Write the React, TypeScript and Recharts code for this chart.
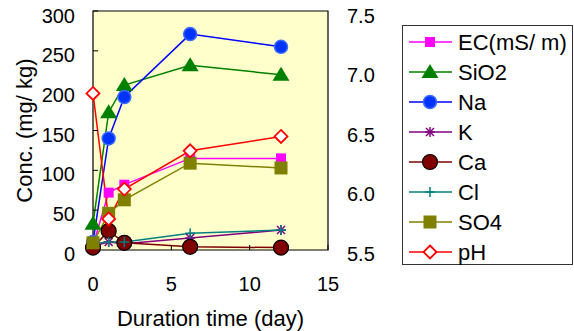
import React from "react"
import {
  ComposedChart,
  Line,
  XAxis,
  YAxis,
  ReferenceArea,
  Customized,
} from "recharts"

// sampling days
const days = [0, 1, 2, 6.2, 12]

// concentrations (mg/kg), EC in mS/m
const ec = [6, 72, 82, 115, 115]
const sio2 = [33, 173, 207, 232, 220]
const na = [10, 140, 192, 271, 255]
const k = [5, 10, 8, 15, 25]
const ca = [3, 24, 9, 4, 3]
const cl = [8, 10, 10, 21, 25]
const so4 = [9, 46, 63, 109, 103]
// right axis
const ph = [6.81, 5.76, 6.01, 6.33, 6.45]

const xTicks = [0, 5, 10, 15]
const leftTicks = [0, 50, 100, 150, 200, 250, 300]
const rightTicks = [5.5, 6, 6.5, 7, 7.5]

const data = days.map((d, i) => ({
  day: d,
  ec: ec[i],
  sio2: sio2[i],
  na: na[i],
  k: k[i],
  ca: ca[i],
  cl: cl[i],
  so4: so4[i],
  ph: ph[i],
}))

type Kind = "square" | "triangle" | "circle" | "star" | "bigcircle" | "plus" | "bigsquare" | "diamond"

const series: { key: string; name: string; color: string; kind: Kind; axis: string }[] = [
  { key: "ec", name: "EC(mS/ m)", color: "#FF00FF", kind: "square", axis: "left" },
  { key: "sio2", name: "SiO2", color: "#008000", kind: "triangle", axis: "left" },
  { key: "na", name: "Na", color: "#0000FF", kind: "circle", axis: "left" },
  { key: "k", name: "K", color: "#800080", kind: "star", axis: "left" },
  { key: "ca", name: "Ca", color: "#800000", kind: "bigcircle", axis: "left" },
  { key: "cl", name: "Cl", color: "#008080", kind: "plus", axis: "left" },
  { key: "so4", name: "SO4", color: "#808000", kind: "bigsquare", axis: "left" },
  { key: "ph", name: "pH", color: "#FF0000", kind: "diamond", axis: "right" },
]

const FONT = "'Liberation Sans', Arial, sans-serif"

function Marker({ kind, cx, cy, color }: { kind: Kind; cx: number; cy: number; color: string }) {
  if (cx == null || cy == null) return null
  switch (kind) {
    case "square":
      return <rect x={cx - 5} y={cy - 5} width={10} height={10} fill={color} />
    case "bigsquare":
      return <rect x={cx - 6.5} y={cy - 6.5} width={13} height={13} fill={color} />
    case "triangle":
      return <polygon points={`${cx},${cy - 8} ${cx + 8.5},${cy + 6} ${cx - 8.5},${cy + 6}`} fill={color} />
    case "circle":
      return <circle cx={cx} cy={cy} r={6.5} fill="#0033FF" stroke="#3A6BFF" strokeWidth={1.5} />
    case "bigcircle":
      return <circle cx={cx} cy={cy} r={7.5} fill={color} stroke="#000" strokeWidth={1.2} />
    case "star":
      return (
        <g stroke={color} strokeWidth={1.5}>
          <line x1={cx - 5} y1={cy} x2={cx + 5} y2={cy} />
          <line x1={cx} y1={cy - 5} x2={cx} y2={cy + 5} />
          <line x1={cx - 4} y1={cy - 4} x2={cx + 4} y2={cy + 4} />
          <line x1={cx - 4} y1={cy + 4} x2={cx + 4} y2={cy - 4} />
        </g>
      )
    case "plus":
      return (
        <g stroke={color} strokeWidth={1.5}>
          <line x1={cx - 5} y1={cy} x2={cx + 5} y2={cy} />
          <line x1={cx} y1={cy - 5} x2={cx} y2={cy + 5} />
        </g>
      )
    case "diamond":
      return (
        <polygon
          points={`${cx},${cy - 6.5} ${cx + 6.5},${cy} ${cx},${cy + 6.5} ${cx - 6.5},${cy}`}
          fill="#fff"
          stroke={color}
          strokeWidth={1.8}
        />
      )
  }
  return null
}

function ChartLegend() {
  return (
    <svg
      width={172}
      height={241}
      style={{ position: "absolute", left: 402, top: 25 }}
    >
      <rect x={0.5} y={0.5} width={170} height={239} fill="#fff" stroke="#333" />
      {series.map((s, i) => {
        const y = 17 + i * 30
        return (
          <g key={s.key}>
            <line x1={7} y1={y} x2={50} y2={y} stroke={s.color} strokeWidth={1.5} />
            <Marker kind={s.kind} cx={28} cy={y} color={s.color} />
            <text x={56} y={y + 8} fontSize={22} fontFamily={FONT} fill="#000">
              {s.name}
            </text>
          </g>
        )
      })}
    </svg>
  )
}

const tickStyle = { fontSize: 20, fill: "#000", fontFamily: FONT }

export default function App() {
  return (
    <div style={{ position: "absolute", left: 0, top: 0, width: 574, height: 331, background: "#fff" }}>
      <ComposedChart
        width={574}
        height={331}
        data={data}
        margin={{ top: 11, right: 186, bottom: 0, left: 0 }}
      >
        <XAxis
          dataKey="day"
          type="number"
          domain={[0, 15]}
          ticks={xTicks}
          height={81}
          axisLine={false}
          tickSize={-5}
          tickMargin={32}
          tickLine={{ stroke: "#000" }}
          tick={tickStyle}
          label={{
            value: "Duration time (day)",
            position: "insideBottom",
            offset: 5,
            style: { fontSize: 22, fill: "#000", fontFamily: FONT },
          }}
        />
        <YAxis
          yAxisId="left"
          domain={[0, 300]}
          ticks={leftTicks}
          width={93}
          axisLine={false}
          tickSize={-5}
          tickMargin={23}
          tickLine={{ stroke: "#000" }}
          tick={{ ...tickStyle, dy: 4 }}
          label={{
            value: "Conc. (mg/ kg)",
            angle: -90,
            position: "center",
            dx: -22,
            style: { fontSize: 22, fill: "#000", fontFamily: FONT, textAnchor: "middle" },
          }}
        />
        <YAxis
          yAxisId="right"
          orientation="right"
          domain={[5.5, 7.5]}
          ticks={rightTicks}
          width={60}
          axisLine={false}
          tickLine={false}
          tickSize={0}
          tickMargin={19}
          tickFormatter={(v: number) => v.toFixed(1)}
          tick={{ ...tickStyle, dy: 4 }}
        />
        <ReferenceArea
          yAxisId="left"
          x1={0}
          x2={15}
          y1={0}
          y2={300}
          fill="#FFFFCC"
          fillOpacity={1}
          stroke="#000"
          strokeWidth={1.2}
        />
        {series.map((s) => (
          <Line
            key={s.key}
            yAxisId={s.axis}
            dataKey={s.key}
            name={s.name}
            type="linear"
            stroke={s.color}
            strokeWidth={1.5}
            isAnimationActive={false}
            dot={(p: any) => (
              <Marker key={`${s.key}-${p.index}`} kind={s.kind} cx={p.cx} cy={p.cy} color={s.color} />
            )}
            activeDot={false}
          />
        ))}
        <Customized
          component={() => (
            <g fontFamily={FONT} fontSize={19} fill="#000">
              <text x={185} y={108}>GW+CO2</text>
              <text x={186} y={133}>1wt%</text>
            </g>
          )}
        />
      </ComposedChart>
      <ChartLegend />
    </div>
  )
}
